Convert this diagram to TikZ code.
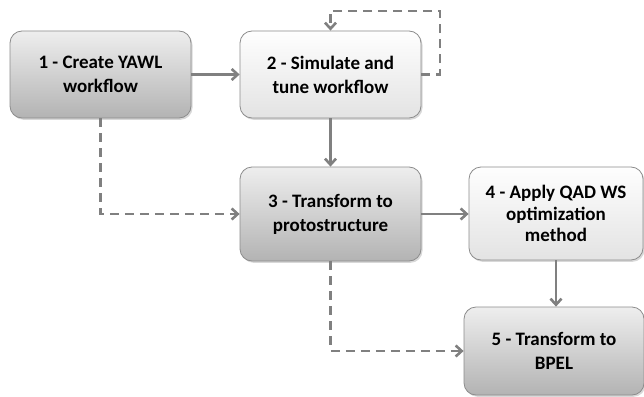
\documentclass[tikz,border=0pt]{standalone}
\usepackage{fontspec}
\setmainfont{Carlito}
\usetikzlibrary{arrows.meta,shadows}
\definecolor{linegray}{HTML}{808080}
\definecolor{boxborder}{HTML}{8C8C8C}
\definecolor{darktop}{HTML}{EEEEEE}
\definecolor{darkbot}{HTML}{B3B3B3}
\definecolor{lighttop}{HTML}{FEFEFE}
\definecolor{lightbot}{HTML}{E3E3E3}
\begin{document}
\begin{tikzpicture}[x=1pt,y=-1pt,
  box/.style={draw=boxborder, line width=0.8pt, rounded corners=12pt, inner sep=0pt,
    align=center, font=\bfseries\fontsize{19}{24}\selectfont,
    drop shadow={shadow xshift=1.5pt, shadow yshift=-1.8pt, opacity=0.3}},
  darkbox/.style={box, top color=darktop, bottom color=darkbot},
  lightbox/.style={box, top color=lighttop, bottom color=lightbot},
  flow/.style={draw=linegray, line width=2.6pt, -{Straight Barb[length=6pt,width=11pt]}},
  dflow/.style={flow, dash pattern=on 9pt off 6pt}
]
\fill[white] (0,0) rectangle (644,396);
\useasboundingbox (0,0) rectangle (644,396);

\node[darkbox, minimum width=181pt, minimum height=87pt] (b1) at (100.5,74.5) {1 - Create YAWL\\workflow};
\node[lightbox, minimum width=181pt, minimum height=87pt] (b2) at (330.5,74.5) {2 - Simulate and\\tune workflow};
\node[darkbox, minimum width=181pt, minimum height=94pt] (b3) at (330.5,214) {3 - Transform to\\protostructure};
\node[lightbox, minimum width=174pt, minimum height=93pt, font=\bfseries\fontsize{19}{21.5}\selectfont] (b4) at (556,213.5) {4 - Apply QAD WS\\optimization\\method};
\node[darkbox, minimum width=180pt, minimum height=88pt] (b5) at (554,351) {5 - Transform to\\BPEL};

\coordinate (loopc) at (440,11);

\draw[flow] (b1.east) -- (b2.west);
\draw[flow] (b2.south) -- (b3.north);
\draw[flow] (b3.east) -- (b3.east -| b4.west);
\draw[flow] (b4.south) -- (b4.south |- b5.north);
\draw[dflow] (b1.south) |- (b3.west);
\draw[dflow] (b3.south) |- (b5.west);
\draw[dflow] (b2.east) -| (loopc) -| (b2.north);
\end{tikzpicture}
\end{document}
